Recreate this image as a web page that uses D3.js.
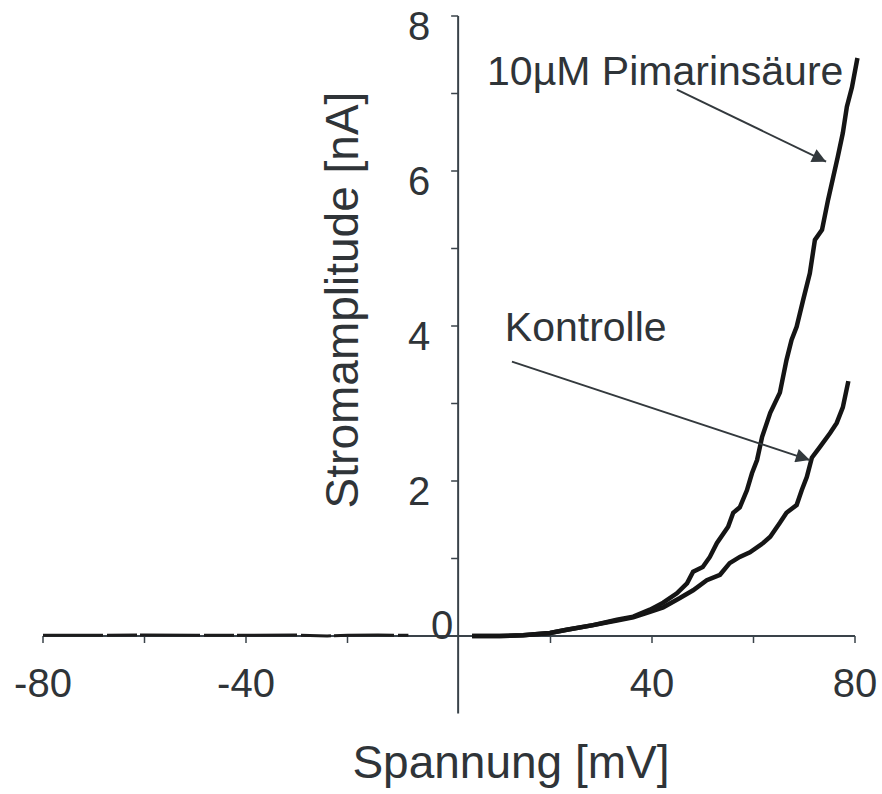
<!DOCTYPE html>
<html>
<head>
<meta charset="utf-8">
<script src="https://cdn.jsdelivr.net/npm/d3@7"></script>
<style>
  html, body { margin: 0; padding: 0; background: #ffffff; }
  svg { display: block; }
</style>
</head>
<body>
<svg id="chart" width="882" height="794"></svg>
<script>
// ---------- data ----------
const xTicks = [-80, -60, -40, -20, 20, 40, 60, 80];
const xTickLabels = [-80, -40, 40, 80];
const yTicks = [0, 1, 2, 3, 4, 5, 6, 7, 8];
const yTickLabels = [0, 2, 4, 6, 8];

// trace at negative potentials (both recordings flat)
const voltageNeg = [-80, -70, -60, -50, -40, -30, -24, -20, -14, -8];
const currentNeg = [0.01, 0.01, 0.012, 0.01, 0.01, 0.012, 0.0, 0.01, 0.012, 0.01];

// 10µM Pimarinsäure
const voltagePim = [5, 10, 14.6, 19.9, 23.2, 28.4, 33.1, 36.3, 39.6, 42.2, 44.9, 46.9, 48.1, 50.0, 51.4, 52.8, 55.0, 56.0, 57.3, 58.7, 59.7, 60.7, 61.7, 63.3, 65.2, 66.5, 67.5, 68.5, 69.8, 71.1, 72.1, 73.5, 74.7, 75.7, 76.6, 77.6, 78.4, 79.4, 80.4];
const currentPim = [0, 0, 0.01, 0.04, 0.08, 0.14, 0.21, 0.25, 0.34, 0.43, 0.55, 0.68, 0.83, 0.89, 1.02, 1.20, 1.41, 1.59, 1.66, 1.88, 2.10, 2.27, 2.57, 2.88, 3.14, 3.56, 3.82, 3.99, 4.34, 4.68, 5.11, 5.24, 5.63, 5.92, 6.18, 6.49, 6.83, 7.08, 7.43];

// Kontrolle
const voltageKtr = [5, 10, 14.6, 19.9, 23.2, 28.4, 33.1, 36.3, 39.6, 42.2, 45.5, 48.1, 50.8, 53.4, 55.3, 57.3, 59.3, 61.9, 63.3, 65.2, 66.5, 68.5, 69.5, 70.5, 71.5, 73.1, 75.1, 76.4, 77.6, 78.6];
const currentKtr = [0, 0, 0.01, 0.04, 0.08, 0.14, 0.20, 0.24, 0.31, 0.37, 0.49, 0.59, 0.72, 0.79, 0.94, 1.02, 1.08, 1.20, 1.28, 1.46, 1.59, 1.69, 1.88, 2.05, 2.30, 2.44, 2.62, 2.75, 2.95, 3.26];

// annotations (data coordinates)
const annotations = [
  { label: "10µM Pimarinsäure", tx: 7.5, ty: 7.11, x1: 44.9, y1: 7.05, x2: 74.3, y2: 6.12 },
  { label: "Kontrolle",         tx: 11.0, ty: 3.81, x1: 12.4, y1: 3.54, x2: 71.1, y2: 2.27 }
];

const xTitle = "Spannung [mV]";
const yTitle = "Stromamplitude [nA]";

// ---------- drawing ----------
const svg = d3.select("#chart");
const font = "'Liberation Sans', Arial, Helvetica, sans-serif";
const textColor = "#2f3438";
const axisColor = "#3a434a";

const x = d3.scaleLinear().domain([-80, 80]).range([43, 855]);
const y = d3.scaleLinear().domain([0, 8]).range([636, 16]);
const yAxisAt = 1.8; // vertical axis crosses slightly right of 0 mV

svg.append("defs").append("marker")
  .attr("id", "arrow")
  .attr("viewBox", "0 0 10 10")
  .attr("refX", 10).attr("refY", 5)
  .attr("markerWidth", 9).attr("markerHeight", 7)
  .attr("markerUnits", "strokeWidth")
  .attr("orient", "auto")
  .append("path")
  .attr("d", "M0,0 L10,5 L0,10 Z")
  .attr("fill", "#33393d");

// x axis
const gx = svg.append("g").attr("transform", `translate(0,${y(0)})`);
gx.append("line")
  .attr("x1", x(-80)).attr("x2", x(80))
  .attr("stroke", axisColor).attr("stroke-width", 2);
gx.selectAll("line.tick").data(xTicks).join("line")
  .attr("class", "tick")
  .attr("x1", d => x(d)).attr("x2", d => x(d))
  .attr("y1", 0).attr("y2", 7)
  .attr("stroke", axisColor).attr("stroke-width", 1.5);
gx.selectAll("text").data(xTickLabels).join("text")
  .attr("x", d => x(d)).attr("y", 61)
  .attr("text-anchor", "middle")
  .attr("font-family", font).attr("font-size", 40)
  .attr("fill", textColor)
  .text(d => d);

// y axis
const gy = svg.append("g").attr("transform", `translate(${x(yAxisAt)},0)`);
gy.append("line")
  .attr("y1", y(8)).attr("y2", y(-1))
  .attr("stroke", axisColor).attr("stroke-width", 2);
gy.selectAll("line.tick").data(yTicks).join("line")
  .attr("class", "tick")
  .attr("y1", d => y(d)).attr("y2", d => y(d))
  .attr("x1", -7).attr("x2", 0)
  .attr("stroke", axisColor).attr("stroke-width", 1.5);
gy.selectAll("text").data(yTickLabels).join("text")
  .attr("x", d => d === 0 ? -5 : -28)
  .attr("y", d => d === 0 ? y(d) + 3 : y(d) + 24)
  .attr("text-anchor", "end")
  .attr("font-family", font).attr("font-size", 40)
  .attr("fill", textColor)
  .text(d => d);

// traces
const line = d3.line().x(d => x(d[0])).y(d => y(d[1])).curve(d3.curveLinear);
const zip = (a, b) => a.map((v, i) => [v, b[i]]);

svg.append("path")
  .datum(zip(voltageNeg, currentNeg))
  .attr("d", line)
  .attr("fill", "none").attr("stroke", "#1c1c1c")
  .attr("stroke-width", 3).attr("stroke-dasharray", "60,4,30,3");

[[voltageKtr, currentKtr], [voltagePim, currentPim]].forEach(([vx, cy]) => {
  svg.append("path")
    .datum(zip(vx, cy))
    .attr("d", line)
    .attr("fill", "none").attr("stroke", "#151515")
    .attr("stroke-width", 4.5)
    .attr("stroke-linejoin", "miter").attr("stroke-linecap", "square");
});

// annotations
annotations.forEach(a => {
  svg.append("line")
    .attr("x1", x(a.x1)).attr("y1", y(a.y1))
    .attr("x2", x(a.x2)).attr("y2", y(a.y2))
    .attr("stroke", "#33393d").attr("stroke-width", 2)
    .attr("marker-end", "url(#arrow)");
  svg.append("text")
    .attr("x", x(a.tx)).attr("y", y(a.ty))
    .attr("font-family", font).attr("font-size", 41)
    .attr("fill", textColor)
    .text(a.label);
});

// titles
svg.append("text")
  .attr("x", 511).attr("y", 778)
  .attr("text-anchor", "middle")
  .attr("font-family", font).attr("font-size", 46)
  .attr("fill", textColor)
  .text(xTitle);

svg.append("text")
  .attr("transform", "translate(358,300) rotate(-90)")
  .attr("text-anchor", "middle")
  .attr("font-family", font).attr("font-size", 46)
  .attr("fill", textColor)
  .text(yTitle);
</script>
</body>
</html>
